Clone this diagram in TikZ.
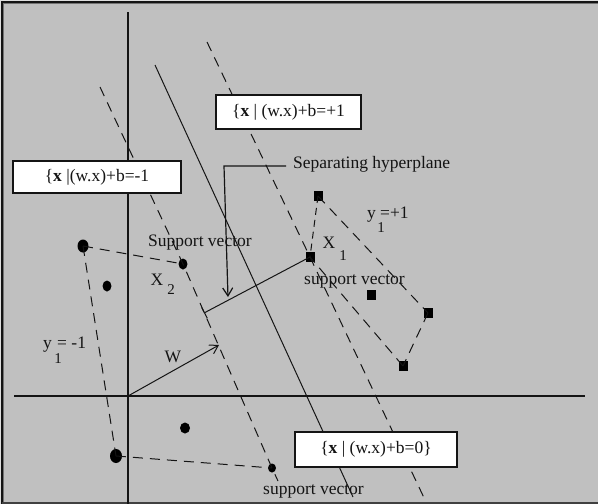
\documentclass[tikz,border=0pt]{standalone}
\usepackage{fontspec}
\setmainfont{Liberation Serif}
\usetikzlibrary{arrows.meta,shapes.geometric}
\definecolor{bgg}{RGB}{192,192,192}
\definecolor{bgl}{RGB}{222,222,222}
\definecolor{ink}{RGB}{20,20,20}
\begin{document}
\begin{tikzpicture}[x=1pt,y=-1pt,
 axis/.style={line width=1.4pt, draw=ink},
 hyp/.style={line width=1pt, draw=ink},
 dsh/.style={line width=1pt, draw=ink, dash pattern=on 10pt off 7pt},
 lbox/.style={draw=ink, line width=1.4pt, fill=white, inner sep=0pt, font=\fontsize{17.5}{20}\selectfont, text=ink},
 txt/.style={inner sep=0pt, font=\fontsize{17.5}{20}\selectfont, text=ink},
 subt/.style={inner sep=0pt, font=\fontsize{15}{18}\selectfont, text=ink},
 dotc/.style 2 args={ellipse, fill=black, inner sep=0pt, minimum width=#1, minimum height=#2},
 sqr/.style={rectangle, fill=black, inner sep=0pt, minimum width=9pt, minimum height=10pt},
 tip/.style={-{Straight Barb[length=8pt,width=10pt]}}
]
\useasboundingbox (0,0) rectangle (598,504);
% background and frame
\fill[bgl] (0,0) rectangle (598,504);
\fill[bgg] (1.5,1.5) rectangle (598,504);
\draw[ink, line width=1.8pt] (2.3,504) -- (2.3,2.3) -- (598,2.3);
\draw[black!55, line width=1pt] (3.8,502) -- (3.8,3.8) -- (598,3.8);
\draw[black!75, line width=1.5pt] (1.5,503.2) -- (598,503.2);

% data points
\node[dotc={11pt}{13pt}] (c1) at (83,246) {};
\node[dotc={9pt}{11pt}] (c2) at (183,264) {};
\node[dotc={9pt}{11pt}] (c3) at (107,286) {};
\node[dotc={10pt}{11pt}] (c4) at (185,428) {};
\node[dotc={12pt}{14pt}] (c5) at (116,456) {};
\node[dotc={8pt}{9pt}] (c6) at (272,468) {};
\node[sqr] (s1) at (318,196) {};
\node[sqr] (s2) at (310,257) {};
\node[sqr] (s3) at (371,295) {};
\node[sqr] (s4) at (428,313) {};
\node[sqr] (s5) at (403,366) {};

% axes
\coordinate (ya) at (128,12);
\coordinate (yb) at (128,504);
\coordinate (xa) at (14,396);
\coordinate (xb) at (585,396);
\coordinate (o) at (128,396);
\draw[axis] (ya) -- (yb);
\draw[axis] (xa) -- (xb);

% hyperplanes
\coordinate (pm1) at (100,87);
\coordinate (qm1) at (278,481);
\coordinate (pp1) at (207,42);
\coordinate (qp1) at (426,502);
\coordinate (p0) at (155,65);
\coordinate (q0) at (353,497);
\draw[dsh] (pm1) -- (c2.center) -- (c6.center) -- (qm1);
\draw[dsh] (pp1) -- (s2.center) -- (qp1);
\draw[hyp] (p0) -- (q0);

% hulls
\draw[dsh] (c1.center) -- (c2.center);
\draw[dsh] (c1.center) -- (c5.center);
\draw[dsh] (c5.center) -- (c6.center);
\draw[dsh, dash pattern=on 7pt off 5pt] (s1.center) -- (s2.center);
\draw[dsh] (s1.center) -- (s4.center);
\draw[dsh] (s4.center) -- (s5.center);
\draw[dsh] (s5.center) -- (s2.center);

% w vector and margin
\coordinate (wt) at (219,345);
\draw[hyp, tip] (o) -- (wt);
\coordinate (m2) at (204,313);
\draw[hyp, {Bar[width=12pt]}-] (m2) -- (s2.center);

% pointer to separating hyperplane
\coordinate (sh1) at (286,166);
\coordinate (sh2) at (224,166);
\coordinate (sh3) at (228,297);
\draw[hyp, line width=1.2pt, tip] (sh1) -- (sh2) -- (sh3);

% label boxes
\node[lbox, minimum width=145pt, minimum height=34pt] (bp1) at (288.5,112) {\{\textbf{x} | (w.x)+b=+1};
\node[lbox, minimum width=168pt, minimum height=32pt] (bm1) at (97,177) {\{\textbf{x} |(w.x)+b=-1};
\node[lbox, minimum width=162pt, minimum height=35pt] (b0) at (376,449.5) {\{\textbf{x} | (w.x)+b=0\}};

% texts
\node[txt, anchor=west] (tsh) at (293,164) {Separating hyperplane};
\node[txt, anchor=west] (tsv1) at (148,243) {Support vector};
\node[txt] (tx2) at (157,280) {X};
\node[subt] (tx2s) at (171,290) {2};
\node[txt] (tx1) at (329,243) {X};
\node[subt] (tx1s) at (343,256) {1};
\node[txt, anchor=west] (tsv2) at (304,281) {support vector};
\node[txt, anchor=base west] (typ) at (367,218) {y};
\node[subt, anchor=base] (typs) at (381,232) {1};
\node[txt, anchor=base west] (typv) at (380,218) {=+1};
\node[txt, anchor=base west] (tym) at (43,348) {y};
\node[subt, anchor=base] (tyms) at (58,363) {1};
\node[txt, anchor=base west] (tymv) at (57,348) {= -1};
\node[txt] (tw) at (173,357) {W};
\node[txt, anchor=west] (tsv3) at (263,491) {support vector};
\end{tikzpicture}
\end{document}
